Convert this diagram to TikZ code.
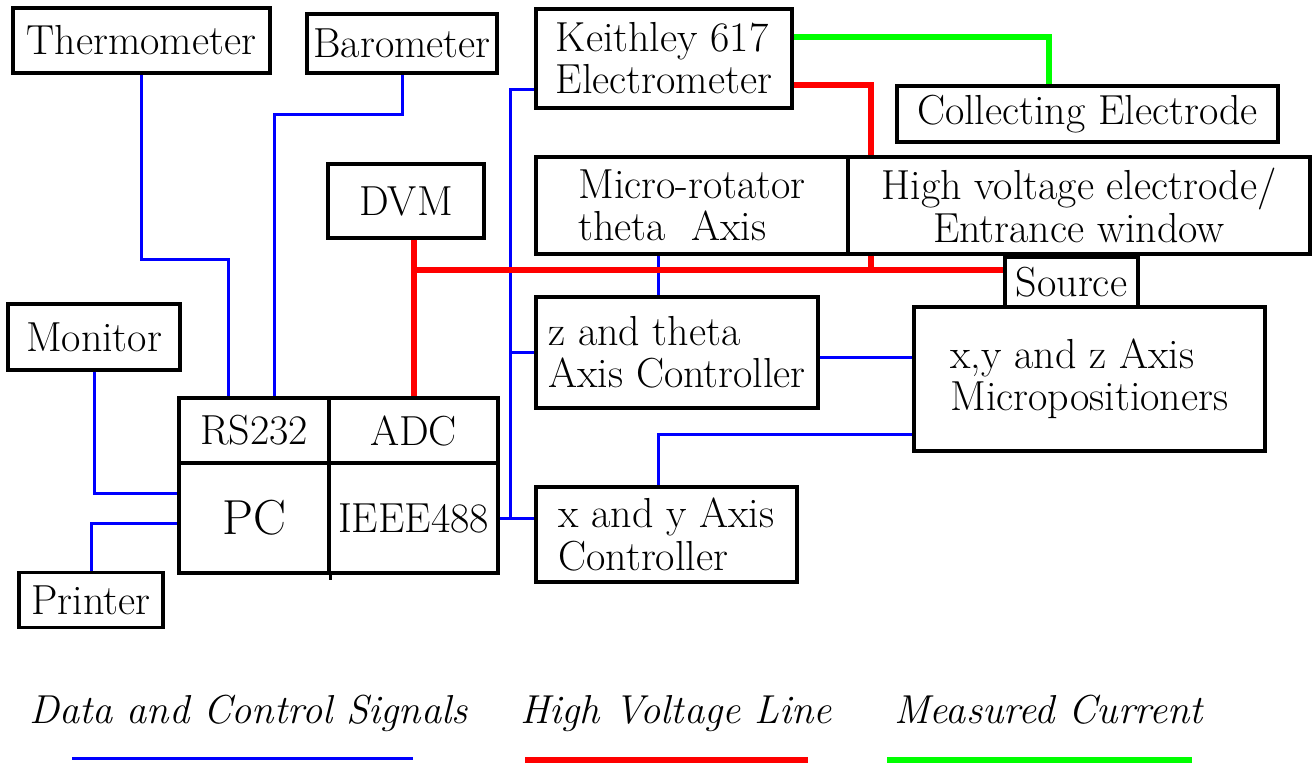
\documentclass[tikz,border=0pt]{standalone}
\usepackage{tikz}
\usetikzlibrary{calc}

\begin{document}
\begin{tikzpicture}[x=0.02cm, y=-0.02cm,
    box/.style={draw, line width=0.065cm, inner sep=0pt, align=center, font=\fontsize{23.9}{24}\selectfont},
    sig/.style={blue, line width=0.06cm},
    hvline/.style={red, line width=0.12cm},
    cur/.style={green, line width=0.11cm},
    legend/.style={anchor=base west, font=\fontsize{23}{24}\selectfont\itshape}]
    \useasboundingbox (0,0) rectangle (1313,767);
    \node[box, minimum width=5.14cm, minimum height=1.30cm] (therm) at (141.5,40.5) {Thermometer};
    \node[box, minimum width=3.80cm, minimum height=1.18cm] (baro) at (402,43.5) {Barometer};
    \node[box, minimum width=5.12cm, minimum height=1.98cm, align=left] (keith) at (664,58.5) {Keithley 617\\Electrometer};
    \node[box, minimum width=7.62cm, minimum height=1.12cm] (coll) at (1087.5,114) {Collecting Electrode};
    \node[box, minimum width=3.12cm, minimum height=1.48cm] (dvm) at (406,201) {DVM};
    \node[box, minimum width=6.24cm, minimum height=1.94cm, align=left] (rot) at (692,205.5) {Micro-rotator\\theta\ \ Axis};
    \node[box, minimum width=9.24cm, minimum height=1.94cm] (hv) at (1079,205.5) {High voltage electrode/\\Entrance window};
    \node[box, minimum width=2.66cm, minimum height=1.00cm] (src) at (1071.5,282) {Source};
    \node[box, minimum width=5.64cm, minimum height=2.22cm, align=left] (zth) at (677,352.5) {z and theta\\Axis Controller};
    \node[box, minimum width=7.02cm, minimum height=2.88cm, align=left] (xyz) at (1089.5,379) {x,y and z Axis\\Micropositioners};
    \node[box, minimum width=5.22cm, minimum height=1.90cm, align=left] (xy) at (666.5,534.5) {x and y Axis\\Controller};
    \node[box, minimum width=3.44cm, minimum height=1.32cm] (mon) at (94,337) {Monitor};
    \node[box, minimum width=2.88cm, minimum height=1.10cm] (prn) at (91,600) {Printer};
    \node[box, minimum width=3.00cm, minimum height=1.30cm] (rs) at (254,430.5) {RS232};
    \node[box, minimum width=3.38cm, minimum height=1.30cm] (adc) at (413.5,430.5) {ADC};
    \node[box, minimum width=3.00cm, minimum height=2.20cm, font=\fontsize{28}{30}\selectfont] (pc) at (254,518) {PC};
    \node[box, minimum width=3.38cm, minimum height=2.20cm] (ieee) at (413.5,518) {IEEE488};
    \draw[line width=0.065cm] (pc.south east) -- ++(0,5);

    \coordinate (bus) at (510,0);
    \coordinate (col) at (658,0);
    \coordinate (hvbus) at (0,270);
    \coordinate (hvtap) at ([xshift=0.5cm]hv.south west);

    \draw[sig] (therm.south) -- ++(0,185) -| ([xshift=-0.52cm]rs.north);
    \draw[sig] (baro.south) -- ++(0,40) -| ([xshift=0.42cm]rs.north);
    \draw[sig] (mon.south) |- ([yshift=0.5cm]pc.west);
    \draw[sig] (prn.north) |- ([yshift=-0.1cm]pc.west);
    \draw[sig] ([yshift=-0.63cm]keith.west) -| (bus |- ieee.east);
    \draw[sig] (ieee.east) -- (ieee.east -| xy.west);
    \draw[sig] (zth.west) -- (zth.west -| bus);
    \draw[sig] (rot.south -| col) -- (zth.north -| col);
    \draw[sig] ([yshift=-0.1cm]zth.east) -- ([yshift=-0.1cm]zth.east -| xyz.west);
    \draw[sig] ([yshift=-1.12cm]xyz.west) -| (xy.north -| col);

    \draw[hvline] (adc.north |- dvm.south) -- (adc.north);
    \draw[hvline] (adc.north |- hvbus) -- (src.west |- hvbus);
    \draw[hvline] (hvtap) -- (hvtap |- hvbus);
    \draw[hvline] ([yshift=-0.53cm]keith.east) -| (hvtap |- hv.north);
    \draw[cur] ([yshift=0.43cm]keith.east) -| ([xshift=-0.77cm]coll.north);

    \node[legend] (lgsig) at (23,723) {Data and Control Signals};
    \node[legend] (lghv) at (514,723) {High Voltage Line};
    \node[legend] (lgcur) at (888,723) {Measured Current};
    \draw[sig] (72,758) -- (413,758);
    \draw[hvline] (525,760) -- (808,760);
    \draw[cur] (887,760) -- (1192,760);
\end{tikzpicture}
\end{document}
